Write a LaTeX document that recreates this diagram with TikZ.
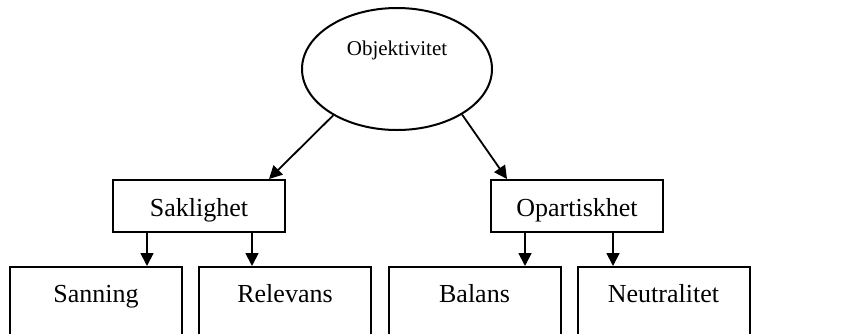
\documentclass[tikz,border=0pt]{standalone}
\usepackage{fontspec}
\setmainfont{Liberation Serif}
\usetikzlibrary{shapes.geometric,arrows.meta}
\begin{document}
\begin{tikzpicture}[x=1pt,y=-1pt,
  lw/.style={line width=2pt},
  midbox/.style={draw,lw,rectangle,minimum width=172pt,inner xsep=0pt,inner ysep=0pt,
    text height=36pt,text depth=16pt,font=\fontsize{26}{30}\selectfont,anchor=base},
  leafbox/.style={draw,lw,rectangle,minimum width=172pt,inner xsep=0pt,inner ysep=0pt,
    text height=35pt,text depth=70pt,font=\fontsize{26}{30}\selectfont,anchor=base},
  conn/.style={line width=1.8pt,-{Triangle[length=13pt,width=13pt]}}
]
\useasboundingbox (0,0) rectangle (848,333);
\clip (0,0) rectangle (848,333);
\fill[white] (0,0) rectangle (848,333);

\node[draw,lw,ellipse,minimum width=190pt,minimum height=122pt,inner sep=0pt,
  text height=14pt,text depth=42pt,font=\fontsize{21}{25}\selectfont] (obj) at (397,69) {Objektivitet};

\node[midbox] (sak) at (199,216) {Saklighet};
\node[midbox] (opa) at (577,216) {Opartiskhet};

\node[leafbox] (san) at (96,302) {Sanning};
\node[leafbox] (rel) at (285,302) {Relevans};
\node[leafbox] (bal) at (474.5,302) {Balans};
\node[leafbox] (neu) at (663.5,302) {Neutralitet};

\draw[conn] (obj.216) -- ([xshift=-17pt]sak.north east);
\draw[conn] (obj.-35) -- ([xshift=17pt]opa.north west);

\draw[conn] ([xshift=35pt]sak.south west) -- ([xshift=35pt]sak.south west |- san.north);
\draw[conn] ([xshift=-34pt]sak.south east) -- ([xshift=-34pt]sak.south east |- rel.north);
\draw[conn] ([xshift=35pt]opa.south west) -- ([xshift=35pt]opa.south west |- bal.north);
\draw[conn] ([xshift=-51pt]opa.south east) -- ([xshift=-51pt]opa.south east |- neu.north);
\end{tikzpicture}
\end{document}
